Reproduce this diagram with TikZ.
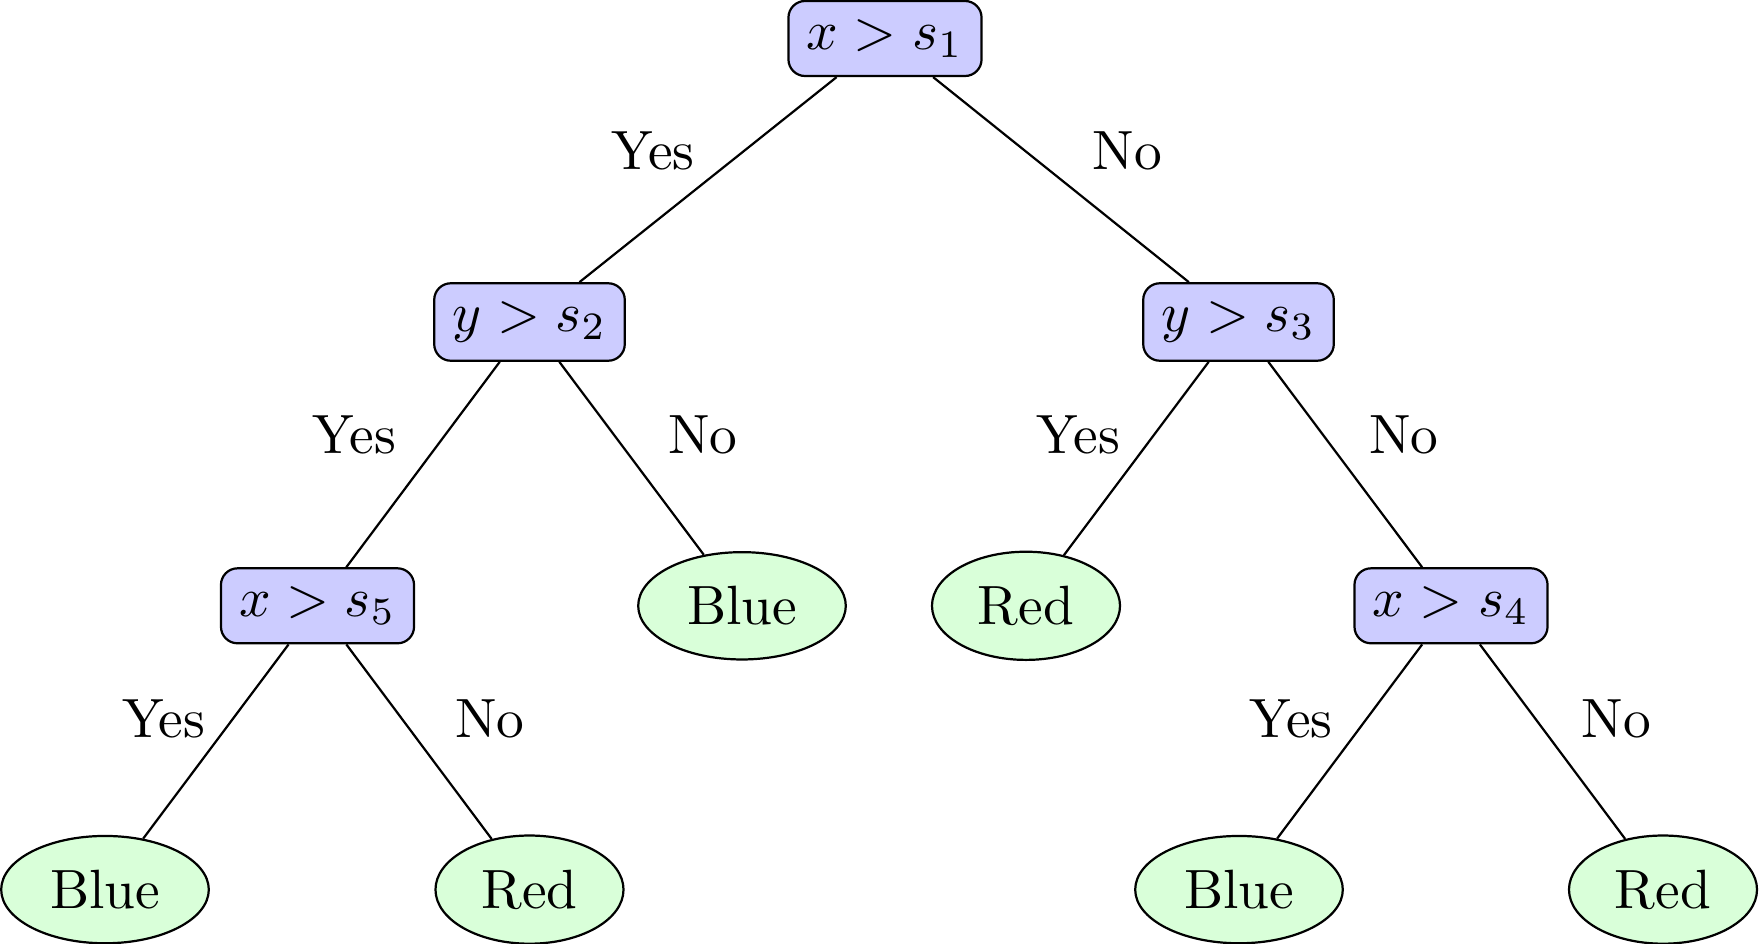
\documentclass[tikz,border=0pt]{standalone}
\usetikzlibrary{shapes.geometric}
\tikzset{
  test/.style={draw, rounded corners=3pt, fill=blue!20, inner sep=3.33pt},
  leaf/.style={draw, ellipse, fill=green!15, inner sep=3.33pt},
  lbl/.style={inner sep=0pt},
  edge/.style={draw, thin}
}
\begin{document}
\begin{tikzpicture}[x=0.18067pt, y=-0.18067pt]
\useasboundingbox (0,0) rectangle (1759,943);
% decision nodes
\node[test] (r)  at (885,38.5)   {$x > s_1$};
\node[test] (s2) at (529.5,322)  {$y > s_2$};
\node[test] (s3) at (1238.5,322) {$y > s_3$};
\node[test] (s5) at (317.5,605.8){$x > s_5$};
\node[test] (s4) at (1451,605.8) {$x > s_4$};
% leaves
\node[leaf] (b1) at (742,605.8)  {Blue};
\node[leaf] (r1) at (1026,605.8) {Red};
\node[leaf] (b2) at (105,889.6)  {Blue};
\node[leaf] (r2) at (529.5,889.6){Red};
\node[leaf] (b3) at (1239,889.6) {Blue};
\node[leaf] (r3) at (1663,889.6) {Red};
% edges
\path[edge] (r) -- (s2);
\path[edge] (r) -- (s3);
\path[edge] (s2) -- (s5);
\path[edge] (s2) -- (b1);
\path[edge] (s3) -- (r1);
\path[edge] (s3) -- (s4);
\path[edge] (s5) -- (b2);
\path[edge] (s5) -- (r2);
\path[edge] (s4) -- (b3);
\path[edge] (s4) -- (r3);
% edge labels
\node[lbl] (l1) at (652.8,151)  {Yes};
\node[lbl] (l2) at (1127.4,151) {No};
\node[lbl] (l3) at (354.5,434.5) {Yes};
\node[lbl] (l4) at (703,434.5)  {No};
\node[lbl] (l5) at (1078.6,434.5) {Yes};
\node[lbl] (l6) at (1404,434.5) {No};
\node[lbl] (l7) at (163.7,718.5) {Yes};
\node[lbl] (l8) at (489.7,718.5) {No};
\node[lbl] (l9) at (1291,718.5) {Yes};
\node[lbl] (l10) at (1616.5,718.5) {No};
\end{tikzpicture}
\end{document}
